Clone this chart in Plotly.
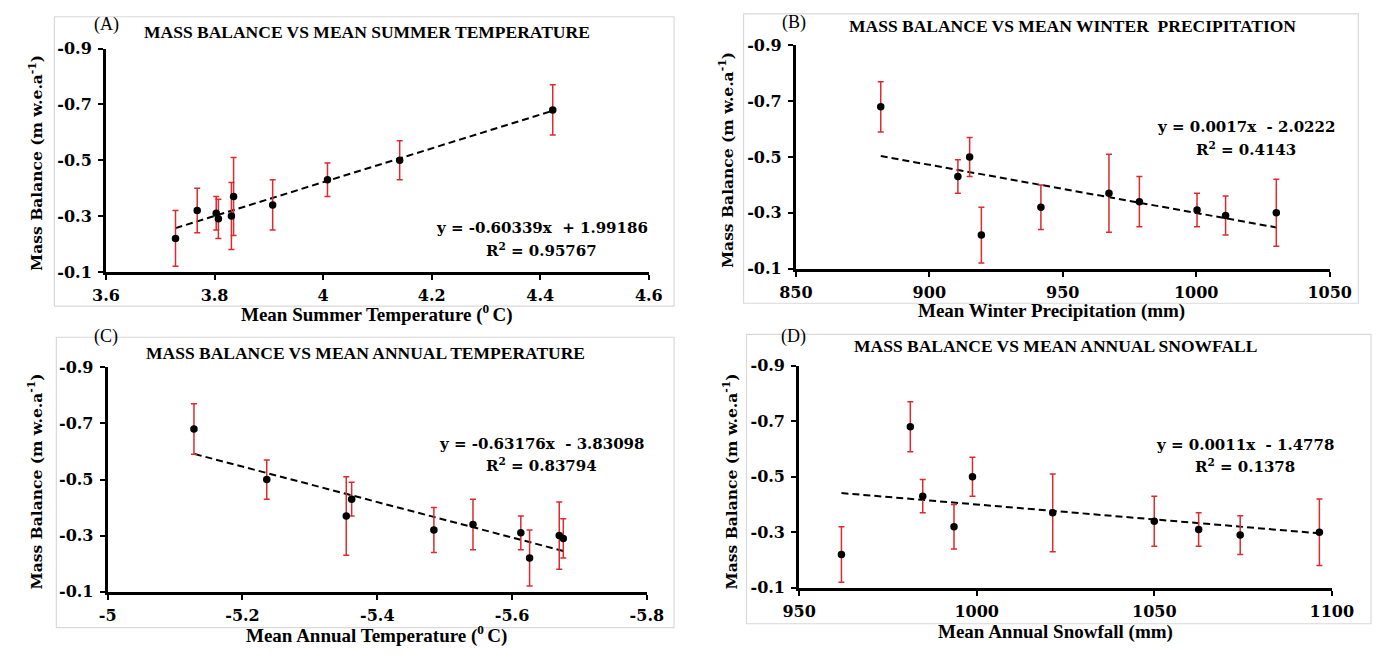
import numpy as np
import plotly.graph_objects as go

W, H = 1393, 659

# ---------------- data ----------------
mass_balance = [-0.68, -0.50, -0.43, -0.37, -0.34, -0.32, -0.31, -0.30, -0.29, -0.22]
mb_error = [0.09, 0.07, 0.06, 0.14, 0.09, 0.08, 0.06, 0.12, 0.07, 0.10]

summer_temp = [4.423, 4.141, 4.008, 3.835, 3.907, 3.768, 3.803, 3.831, 3.807, 3.728]
winter_precip = [881.8, 915.1, 910.7, 967.3, 978.7, 941.8, 1000.3, 1030.0, 1011.0, 919.5]
annual_temp = [-5.128, -5.236, -5.362, -5.354, -5.542, -5.484, -5.613, -5.670, -5.676, -5.626]
annual_snowfall = [981.3, 998.8, 984.8, 1021.4, 1050.0, 993.6, 1062.5, 1096.5, 1074.2, 961.9]

y_tickvals = [-0.9, -0.7, -0.5, -0.3, -0.1]
y_ticktext = ["-0.9", "-0.7", "-0.5", "-0.3", "-0.1"]

xA_tickvals = [3.6, 3.8, 4.0, 4.2, 4.4, 4.6]
xA_ticktext = ["3.6", "3.8", "4", "4.2", "4.4", "4.6"]
xB_tickvals = [850, 900, 950, 1000, 1050]
xB_ticktext = ["850", "900", "950", "1000", "1050"]
xC_tickvals = [-5.0, -5.2, -5.4, -5.6, -5.8]
xC_ticktext = ["-5", "-5.2", "-5.4", "-5.6", "-5.8"]
xD_tickvals = [950, 1000, 1050, 1100]
xD_ticktext = ["950", "1000", "1050", "1100"]

titles = ["MASS BALANCE VS MEAN SUMMER TEMPERATURE",
          "MASS BALANCE VS MEAN WINTER  PRECIPITATION",
          "MASS BALANCE VS MEAN ANNUAL TEMPERATURE",
          "MASS BALANCE VS MEAN ANNUAL SNOWFALL"]
panel_labels = ["(A)", "(B)", "(C)", "(D)"]
x_titles = ["Mean Summer Temperature (<sup>0 </sup>C)",
            "Mean Winter Precipitation (mm)",
            "Mean Annual Temperature (<sup>0 </sup>C)",
            "Mean Annual Snowfall (mm)"]
y_title = "Mass Balance (m w.e.a<sup>-1</sup>)"
eq_texts = ["y = -0.60339x  + 1.99186", "y = 0.0017x  - 2.0222",
            "y = -0.63176x  - 3.83098", "y = 0.0011x  - 1.4778"]
r2_texts = ["R<sup>2</sup> = 0.95767", "R<sup>2</sup> = 0.4143",
            "R<sup>2</sup> = 0.83794", "R<sup>2</sup> = 0.1378"]

# ---------------- layout helpers (pixel -> paper) ----------------
def px(x):
    return x / W

def py(y):
    return 1 - y / H

def bold(labels):
    return [f"<b>{t}</b>" for t in labels]

panels = [
    dict(x=summer_temp, xr=[3.6, 4.6], tv=xA_tickvals, tt=xA_ticktext,
         dom_x=[91.6, 650.0], dom_y=[270.7, 40.7], box=[38.5, 8, 676, 306],
         lab=(92, 16), title=(360, 24), eq=(540, 226), r2=(540, 248),
         xt=(370, 314), yt=(20, 158)),
    dict(x=winter_precip, xr=[850, 1050], tv=xB_tickvals, tt=xB_ticktext,
         dom_x=[801.3, 1350.5], dom_y=[267.3, 37.5], box=[747.5, 5, 1380, 303],
         lab=(799, 14), title=(1086, 17), eq=(1264, 122), r2=(1264, 144),
         xt=(1064, 311), yt=(730, 156)),
    dict(x=annual_temp, xr=[-5.0, -5.8], tv=xC_tickvals, tt=xC_ticktext,
         dom_x=[93.3, 648.0], dom_y=[600.0, 369.0], box=[40.5, 338, 676, 637],
         lab=(92, 337), title=(359, 354), eq=(540, 448), r2=(540, 470),
         xt=(370, 644), yt=(20, 486)),
    dict(x=annual_snowfall, xr=[950, 1100], tv=xD_tickvals, tt=xD_ticktext,
         dom_x=[804.7, 1352.7], dom_y=[596.0, 367.3], box=[750.5, 335, 1393, 633],
         lab=(799, 337), title=(1068, 347), eq=(1263, 449), r2=(1263, 471),
         xt=(1068, 642), yt=(735, 486)),
]

TICK_FONT = dict(family="DejaVu Serif", size=16, color="black")
EQ_FONT = dict(family="DejaVu Serif", size=15, color="black", weight="bold")
TITLE_FONT = dict(family="Liberation Serif", size=17.5, color="black", weight="bold")
XT_FONT = dict(family="Liberation Serif", size=19, color="black", weight="bold")
YT_FONT = dict(family="DejaVu Serif", size=15.5, color="black", weight="bold")
LAB_FONT = dict(family="Liberation Serif", size=18, color="black")

fig = go.Figure()
annotations = []
shapes = []
layout_axes = {}

for i, p in enumerate(panels):
    n = i + 1
    xa = "x" if n == 1 else f"x{n}"
    ya = "y" if n == 1 else f"y{n}"
    xkey = "xaxis" if n == 1 else f"xaxis{n}"
    ykey = "yaxis" if n == 1 else f"yaxis{n}"

    # frame
    b = p["box"]
    shapes.append(dict(type="rect", xref="paper", yref="paper",
                       x0=px(b[0]), x1=px(b[2]), y0=py(b[3]), y1=py(b[1]),
                       line=dict(color="#d9d9d9", width=1.2), layer="below"))

    # trendline from least squares fit of the data
    xs = np.array(p["x"], dtype=float)
    ys = np.array(mass_balance, dtype=float)
    m, c = np.polyfit(xs, ys, 1)
    xline = np.array([xs.min(), xs.max()])
    fig.add_trace(go.Scatter(x=xline, y=m * xline + c, mode="lines",
                             line=dict(color="black", width=2, dash="7px,4px"),
                             xaxis=xa, yaxis=ya, showlegend=False, hoverinfo="skip"))

    fig.add_trace(go.Scatter(x=p["x"], y=mass_balance, mode="markers",
                             marker=dict(color="black", size=7.5),
                             error_y=dict(type="data", array=mb_error, visible=True,
                                          color="#dc2a2e", thickness=1.5, width=3),
                             xaxis=xa, yaxis=ya, showlegend=False))

    layout_axes[xkey] = dict(
        domain=[px(p["dom_x"][0]), px(p["dom_x"][1])], range=p["xr"], anchor=ya,
        tickmode="array", tickvals=p["tv"], ticktext=bold(p["tt"]),
        showline=True, linecolor="black", linewidth=3, ticks="outside",
        ticklen=5, tickwidth=2, tickcolor="black", showgrid=False, zeroline=False,
        tickfont=TICK_FONT, ticklabelstandoff=2)
    layout_axes[ykey] = dict(
        domain=[py(p["dom_y"][0]), py(p["dom_y"][1])], range=[-0.1, -0.9], anchor=xa,
        tickmode="array", tickvals=y_tickvals, ticktext=bold(y_ticktext),
        showline=True, linecolor="black", linewidth=3, ticks="outside",
        ticklen=5, tickwidth=2, tickcolor="black", showgrid=False, zeroline=False,
        tickfont=TICK_FONT, ticklabelstandoff=3)

    def ann(text, pos, font, **kw):
        d = dict(text=text, x=px(pos[0]), y=py(pos[1]), xref="paper", yref="paper",
                 showarrow=False, font=font, xanchor="center", yanchor="middle")
        d.update(kw)
        annotations.append(d)

    ann(panel_labels[i], p["lab"], LAB_FONT)
    ann(titles[i], p["title"], TITLE_FONT)
    ann(eq_texts[i], p["eq"], EQ_FONT)
    ann(r2_texts[i], p["r2"], EQ_FONT)
    ann(x_titles[i], p["xt"], XT_FONT)
    ann(y_title, p["yt"], YT_FONT, textangle=-90)

fig.update_layout(
    width=W, height=H, margin=dict(l=0, r=0, t=0, b=0),
    paper_bgcolor="white", plot_bgcolor="white",
    annotations=annotations, shapes=shapes, showlegend=False,
    **layout_axes)

fig.write_html("out.html")
